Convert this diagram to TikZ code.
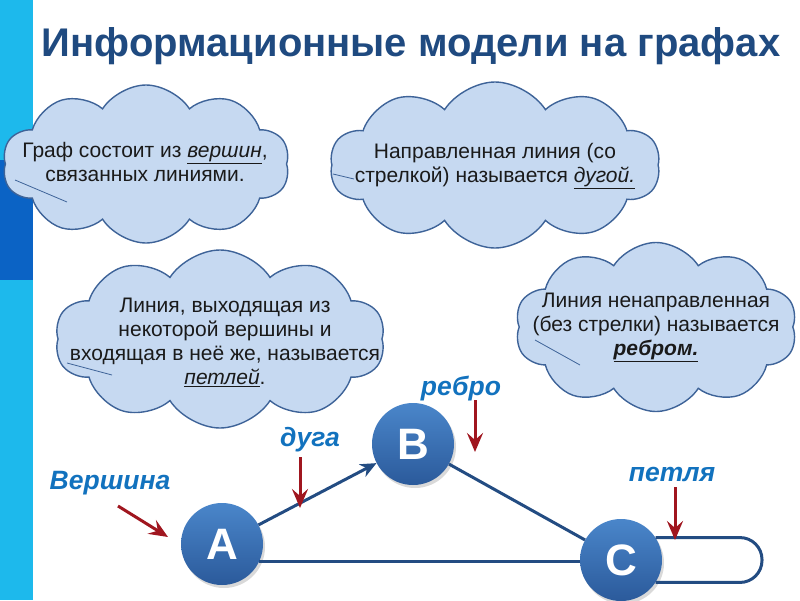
\documentclass[tikz,border=0pt]{standalone}
\usepackage{fontspec}
\setmainfont{Liberation Sans}
\usetikzlibrary{arrows.meta,calc,positioning,shapes.symbols,shadows}
\definecolor{ink}{HTML}{1A1A1A}
\definecolor{stripCyan}{HTML}{1DB9EC}
\definecolor{stripDeep}{HTML}{0B63C5}
\definecolor{titleBlue}{HTML}{1F4A80}
\definecolor{cloudFill}{HTML}{C6D9F1}
\definecolor{cloudLine}{HTML}{3E6398}
\definecolor{nodeTop}{HTML}{4A86CA}
\definecolor{nodeBot}{HTML}{2B5A9B}
\definecolor{edgeBlue}{HTML}{234C82}
\definecolor{labelBlue}{HTML}{1272BE}
\definecolor{pointerRed}{HTML}{A0161F}
\tikzset{
  cloudbox/.style={cloud,cloud puffs=10,cloud puff arc=115,draw=cloudLine,fill=cloudFill,line width=1.4pt,inner sep=0pt},
  note/.style={align=center,text=ink,font=\fontsize{21}{24}\selectfont,inner sep=0pt},
  vertex/.style={circle,minimum size=82pt,inner sep=0pt,top color=nodeTop,bottom color=nodeBot,text=white,
    font=\bfseries\fontsize{44}{44}\selectfont,drop shadow={opacity=0.3,shadow xshift=2pt,shadow yshift=-3pt}},
  edgeline/.style={line width=3pt,draw=edgeBlue},
  arcline/.style={edgeline,-{Stealth[length=16pt,width=14pt,inset=5pt]}},
  pointer/.style={line width=3pt,draw=pointerRed,-{Stealth[length=19pt,width=16pt,inset=7pt]}},
  tag/.style={text=labelBlue,font=\bfseries\itshape\fontsize{26.5}{26}\selectfont,inner sep=0pt}
}
\newcommand{\term}[1]{\underline{\textit{#1}}}

\begin{document}
\begin{tikzpicture}[x=1pt,y=-1pt]
  \useasboundingbox (0,0) rectangle (800,600);
  \fill[stripCyan] (0,0) rectangle (33,600);
  \fill[stripDeep] (0,160) rectangle (33,280);

  \node[text=titleBlue,font=\bfseries\fontsize{40}{40}\selectfont] (title) at (411,46) {Информационные модели на графах};

  \node[cloudbox,minimum width=287pt,minimum height=158pt] (c1) at (146,164) {};
  \node[cloudbox,minimum width=330pt,minimum height=166pt] (c2) at (495,165) {};
  \node[cloudbox,minimum width=330pt,minimum height=178pt] (c3) at (220,339) {};
  \node[cloudbox,minimum width=282pt,minimum height=169pt] (c4) at (656,327) {};
  \foreach \a/\b/\c/\d in {15/180/67/202,333/174/354/179,67/363/112/375,535/340/580/365}
    \draw[cloudLine,line width=0.8pt] (\a,\b) -- (\c,\d);

  \node[note] (t1) at (145,162) {Граф состоит из \term{вершин},\\связанных линиями.};
  \node[note] (t2) at (495,166) {Направленная линия (со\\стрелкой) называется \term{дугой.}};
  \node[note] (t3) at (225,342) {Линия, выходящая из\\некоторой вершины и\\входящая в неё же, называется\\\term{петлей}.};
  \node[note] (t4) at (656,327) {Линия ненаправленная\\(без стрелки) называется\\\term{\bfseries ребром.}};

  \node[vertex] (A) at (222,544) {A};
  \node[vertex] (B) at (413,444) {B};
  \node[vertex] (C) at (621,560) {C};
  \coordinate (loopEnd) at (762,560);
  \draw[arcline] (A) -- (B);
  \draw[edgeline] (B) -- (C);
  \draw[edgeline] (A.-25) -- (A.-25 -| C.west);
  \draw[edgeline,rounded corners=22pt] (C.33) -- (C.33 -| loopEnd) -- (C.-33 -| loopEnd) -- (C.-33);

  \node[tag] (vtxTag) at (110,483) {Вершина};
  \node[tag] (arcTag) at (310,440) {дуга};
  \node[tag] (edgeTag) at (461,389) {ребро};
  \node[tag] (loopTag) at (672,474) {петля};
  \coordinate (vtxTail) at (118,506);  \coordinate (vtxHead) at (168,537);
  \coordinate (arcTail) at (300,457);  \coordinate (arcHead) at (300,508);
  \coordinate (edgeTail) at (475,400); \coordinate (edgeHead) at (475,452);
  \coordinate (loopTail) at (675,487); \coordinate (loopHead) at (675,540);
  \foreach \a/\b in {vtxTail/vtxHead,arcTail/arcHead,edgeTail/edgeHead,loopTail/loopHead}
    \draw[pointer] (\a) -- (\b);
\end{tikzpicture}
\end{document}
